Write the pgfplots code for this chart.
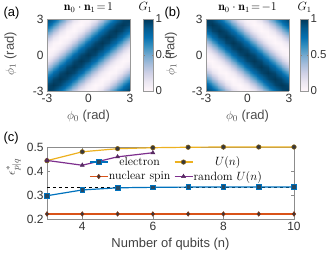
\documentclass[border=0pt]{standalone}
\usepackage{pgfplots}
\pgfplotsset{compat=1.18}
\usepgfplotslibrary{patchplots}
\usepackage{pgfplotstable}
\usepackage{fontspec}
\setsansfont{Liberation Sans}
\definecolor{mblue}{RGB}{0,114,189}
\definecolor{morange}{RGB}{217,83,25}
\definecolor{myellow}{RGB}{237,177,32}
\definecolor{mpurple}{RGB}{126,47,142}
\definecolor{mark}{RGB}{55,55,60}
\pgfplotsset{colormap={pubu}{rgb255=(255,247,251) rgb255=(236,231,242) rgb255=(208,209,230) rgb255=(166,189,219) rgb255=(116,169,207) rgb255=(54,144,192) rgb255=(5,112,176) rgb255=(4,90,141) rgb255=(2,56,88)}}
\pgfplotstableread{
x y za zb
-3 -3 1 .980
-2.5 -3 .939 .854
-2 -3 .770 .642
-1.5 -3 .535 .395
-1 -3 .292 .173
-0.5 -3 .099 .032
0 -3 .005 .005
0.5 -3 .032 .099
1 -3 .173 .292
1.5 -3 .395 .535
2 -3 .642 .770
2.5 -3 .854 .939
3 -3 .980 1
-3 -2.5 .939 .854
-2.5 -2.5 1 .642
-2 -2.5 .939 .395
-1.5 -2.5 .770 .173
-1 -2.5 .535 .032
-0.5 -2.5 .292 .005
0 -2.5 .099 .099
0.5 -2.5 .005 .292
1 -2.5 .032 .535
1.5 -2.5 .173 .770
2 -2.5 .395 .939
2.5 -2.5 .642 1
3 -2.5 .854 .939
-3 -2 .770 .642
-2.5 -2 .939 .395
-2 -2 1 .173
-1.5 -2 .939 .032
-1 -2 .770 .005
-0.5 -2 .535 .099
0 -2 .292 .292
0.5 -2 .099 .535
1 -2 .005 .770
1.5 -2 .032 .939
2 -2 .173 1
2.5 -2 .395 .939
3 -2 .642 .770
-3 -1.5 .535 .395
-2.5 -1.5 .770 .173
-2 -1.5 .939 .032
-1.5 -1.5 1 .005
-1 -1.5 .939 .099
-0.5 -1.5 .770 .292
0 -1.5 .535 .535
0.5 -1.5 .292 .770
1 -1.5 .099 .939
1.5 -1.5 .005 1
2 -1.5 .032 .939
2.5 -1.5 .173 .770
3 -1.5 .395 .535
-3 -1 .292 .173
-2.5 -1 .535 .032
-2 -1 .770 .005
-1.5 -1 .939 .099
-1 -1 1 .292
-0.5 -1 .939 .535
0 -1 .770 .770
0.5 -1 .535 .939
1 -1 .292 1
1.5 -1 .099 .939
2 -1 .005 .770
2.5 -1 .032 .535
3 -1 .173 .292
-3 -0.5 .099 .032
-2.5 -0.5 .292 .005
-2 -0.5 .535 .099
-1.5 -0.5 .770 .292
-1 -0.5 .939 .535
-0.5 -0.5 1 .770
0 -0.5 .939 .939
0.5 -0.5 .770 1
1 -0.5 .535 .939
1.5 -0.5 .292 .770
2 -0.5 .099 .535
2.5 -0.5 .005 .292
3 -0.5 .032 .099
-3 0 .005 .005
-2.5 0 .099 .099
-2 0 .292 .292
-1.5 0 .535 .535
-1 0 .770 .770
-0.5 0 .939 .939
0 0 1 1
0.5 0 .939 .939
1 0 .770 .770
1.5 0 .535 .535
2 0 .292 .292
2.5 0 .099 .099
3 0 .005 .005
-3 0.5 .032 .099
-2.5 0.5 .005 .292
-2 0.5 .099 .535
-1.5 0.5 .292 .770
-1 0.5 .535 .939
-0.5 0.5 .770 1
0 0.5 .939 .939
0.5 0.5 1 .770
1 0.5 .939 .535
1.5 0.5 .770 .292
2 0.5 .535 .099
2.5 0.5 .292 .005
3 0.5 .099 .032
-3 1 .173 .292
-2.5 1 .032 .535
-2 1 .005 .770
-1.5 1 .099 .939
-1 1 .292 1
-0.5 1 .535 .939
0 1 .770 .770
0.5 1 .939 .535
1 1 1 .292
1.5 1 .939 .099
2 1 .770 .005
2.5 1 .535 .032
3 1 .292 .173
-3 1.5 .395 .535
-2.5 1.5 .173 .770
-2 1.5 .032 .939
-1.5 1.5 .005 1
-1 1.5 .099 .939
-0.5 1.5 .292 .770
0 1.5 .535 .535
0.5 1.5 .770 .292
1 1.5 .939 .099
1.5 1.5 1 .005
2 1.5 .939 .032
2.5 1.5 .770 .173
3 1.5 .535 .395
-3 2 .642 .770
-2.5 2 .395 .939
-2 2 .173 1
-1.5 2 .032 .939
-1 2 .005 .770
-0.5 2 .099 .535
0 2 .292 .292
0.5 2 .535 .099
1 2 .770 .005
1.5 2 .939 .032
2 2 1 .173
2.5 2 .939 .395
3 2 .770 .642
-3 2.5 .854 .939
-2.5 2.5 .642 1
-2 2.5 .395 .939
-1.5 2.5 .173 .770
-1 2.5 .032 .535
-0.5 2.5 .005 .292
0 2.5 .099 .099
0.5 2.5 .292 .005
1 2.5 .535 .032
1.5 2.5 .770 .173
2 2.5 .939 .395
2.5 2.5 1 .642
3 2.5 .939 .854
-3 3 .980 1
-2.5 3 .854 .939
-2 3 .642 .770
-1.5 3 .395 .535
-1 3 .173 .292
-0.5 3 .032 .099
0 3 .005 .005
0.5 3 .099 .032
1 3 .292 .173
1.5 3 .535 .395
2 3 .770 .642
2.5 3 .939 .854
3 3 1 .980
}\hm
\pgfplotsset{
  tfont/.style={font=\sffamily\fontsize{12}{13}\selectfont, text=black!80},
  hmap/.style={
    scale only axis, width=83bp, height=72bp, anchor=south west,
    view={0}{90}, xmin=-3, xmax=3, ymin=-3, ymax=3,
    xtick={-3,0,3}, ytick={-3,0,3},
    tick style={draw=none},
    axis line style={black!40, line width=0.3pt},
    /pgf/number format/assume math mode=true,
    ticklabel style={tfont},
    label style={font=\sffamily\fontsize{13}{14}\selectfont, text=black!70},
    xlabel={$\phi_0$ (rad)}, ylabel={$\phi_1$ (rad)},
    colormap name=pubu, point meta min=0, point meta max=1,
    title style={font=\fontsize{12}{12}\selectfont, yshift=-3bp},
  },
  cbar/.style={at={(parent axis.north east)}, anchor=north west,
    scale only axis, height=72bp, ytick={0,0.5,1},
    /pgf/number format/assume math mode=true,
    yticklabel style={font=\sffamily\fontsize{11.5}{12}\selectfont, text=black!80, xshift=-1.5bp},
    major tick length=1.5bp, tick style={black!50},
    axis line style={black!40, line width=0.3pt},
    title={$G_1$}, title style={font=\fontsize{12}{12}\selectfont, yshift=-3bp}},
}
\begin{document}
\begin{tikzpicture}
\path[use as bounding box] (0,0) rectangle (326bp,260bp);
\begin{axis}[hmap, at={(47bp,169bp)},
  title={$\mathbf{n}_0\cdot\mathbf{n}_1\!=\!1$},
  ylabel style={at={(axis description cs:-0.44,0.52)}, anchor=center},
  colorbar,
  colorbar style={cbar, xshift=5bp, width=10bp, title style={xshift=-3bp}},
]
\addplot3[surf, shader=interp, patch type=bilinear, mesh/cols=13] table[x=x, y=y, z=za, meta=za]{\hm};
\end{axis}
\begin{axis}[hmap, at={(206bp,169bp)},
  title={$\mathbf{n}_0\cdot\mathbf{n}_1\!=\!-1$},
  ylabel style={at={(axis description cs:-0.42,0.52)}, anchor=center},
  colorbar,
  colorbar style={cbar, xshift=3bp, width=8bp},
]
\addplot3[surf, shader=interp, patch type=bilinear, mesh/cols=13] table[x=x, y=y, z=zb, meta=zb]{\hm};
\end{axis}
\begin{axis}[scale only axis, width=247bp, height=72bp, anchor=south west, at={(47bp,41bp)},
  xmin=3, xmax=10, ymin=0.2, ymax=0.5,
  xtick={4,6,8,10}, ytick={0.2,0.3,0.4,0.5},
  yticklabel style={/pgf/number format/.cd, fixed, fixed zerofill, precision=1},
  /pgf/number format/assume math mode=true,
  ticklabel style={tfont},
  tick align=inside, major tick length=3bp, tick style={black!45, line width=0.4pt},
  axis line style={black!45, line width=0.4pt},
  xlabel={Number of qubits (n)},
  xlabel style={font=\sffamily\fontsize{13}{14}\selectfont, text=black!75},
  ylabel={$\epsilon^*_{p|q}$},
  ylabel style={font=\fontsize{13}{14}\selectfont, text=black!75, at={(axis description cs:-0.135,0.72)}, anchor=center},
  legend columns=2,
  legend image code/.code={\draw[mark repeat=2, mark phase=2] plot coordinates {(0bp,0bp) (9bp,0bp) (18bp,0bp)};},
  legend style={at={(0.17,0.88)}, anchor=north west, draw=none, fill=none,
    font=\fontsize{12}{12}\selectfont, inner sep=0bp, row sep=2bp,
    nodes={inner xsep=0.5bp, inner ysep=1bp},
    /tikz/every odd column/.append style={column sep=0bp},
    /tikz/every even column/.append style={column sep=3bp}},
  every axis plot/.append style={line width=1.2bp, mark size=2.3bp},
]
\addplot[black, dashed, line width=0.5bp, forget plot] coordinates {(3,0.3333) (10,0.3333)};
\addplot[mblue, mark=square*, mark options={fill=mark!70!mblue, draw=mblue, line width=0.6bp}] coordinates {
(3,0.297) (4,0.321) (5,0.330) (6,0.332) (7,0.333) (8,0.333) (9,0.333) (10,0.333)};
\addlegendentry{electron}
\addplot[myellow, mark=*, mark options={fill=mark, draw=myellow!60!black, line width=0.5bp}] coordinates {
(3,0.443) (4,0.480) (5,0.493) (6,0.497) (7,0.499) (8,0.500) (9,0.500) (10,0.500)};
\addlegendentry{$U(n)$}
\addplot[morange, mark=diamond*, mark options={fill=mark, draw=morange!60!black, line width=0.5bp}] coordinates {
(3,0.221) (4,0.221) (5,0.221) (6,0.221) (7,0.221) (8,0.221) (9,0.221) (10,0.221)};
\addlegendentry{nuclear spin}
\addplot[mpurple, mark=triangle*, mark options={fill=mark!60!mpurple, draw=mpurple!70!black, line width=0.5bp}] coordinates {
(3,0.444) (4,0.424) (5,0.459) (6,0.476)};
\addlegendentry{random $U(n)$}
\end{axis}
\node[font=\sffamily\fontsize{13}{14}\selectfont, anchor=west] at (0bp,247bp) {(a)};
\node[font=\sffamily\fontsize{13}{14}\selectfont, anchor=west] at (161bp,247bp) {(b)};
\node[font=\sffamily\fontsize{13}{14}\selectfont, anchor=west] at (0bp,122bp) {(c)};
\end{tikzpicture}
\end{document}
